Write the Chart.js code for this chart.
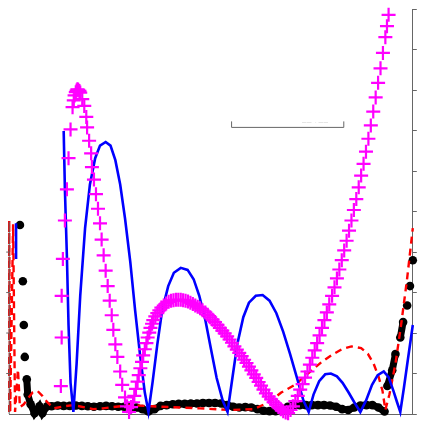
<!DOCTYPE html>
<html>
<head>
<meta charset="utf-8">
<script src="https://cdn.jsdelivr.net/npm/chart.js@4/dist/chart.umd.min.js"></script>
<style>
  body { margin: 0; background: #fff; }
  canvas { display: block; }
</style>
</head>
<body>
<canvas id="myChart" width="422" height="428"></canvas>
<script>
// Data (x in 0..100, y in 0..10)
const magentaX = [12.8, 13.0, 13.0, 13.3, 13.8, 14.3, 14.7, 15.2, 15.7, 16.0, 16.2, 16.5, 16.7, 16.9, 17.1, 17.4, 17.6, 18.1, 18.6, 19.1, 19.3, 19.8, 20.3, 20.5, 21.0, 21.5, 22.0, 22.5, 22.9, 23.4, 23.9, 24.4, 24.9, 25.4, 25.8, 26.3, 26.8, 27.5, 28.0, 28.7, 29.2,
  29.7, 30.2, 30.7, 31.0, 31.4, 31.8, 32.1, 32.5, 32.9, 33.2, 33.6, 34.0, 34.3, 34.7, 35.0, 35.4, 35.7, 36.2, 36.7, 37.2, 37.7, 38.3, 38.9, 39.5, 40.1, 40.7, 41.3, 41.9, 42.5, 43.1, 43.7, 44.3, 44.9, 45.5,
  46.1, 46.7, 47.3, 47.9, 48.6, 49.2, 49.8, 50.4, 51.0, 51.6, 52.2, 52.8, 53.4, 54.0, 54.6, 55.2, 55.8, 56.4, 57.0, 57.6, 58.2, 58.8, 59.4, 60.0, 60.6, 61.2, 61.8, 62.4, 63.0, 63.6, 64.3, 64.9, 65.5,
  66.1, 66.7, 67.3, 67.9, 68.5, 69.1,
  69.7, 70.3, 70.9, 71.5, 72.1, 72.7, 73.3, 73.9, 74.5, 75.1, 75.7, 76.3, 76.9, 77.5, 78.1, 78.7, 79.3, 80.0, 80.6, 81.2, 81.8, 82.4, 83.0, 83.6, 84.2, 84.8, 85.4, 86.0, 86.6, 87.2, 87.8, 88.4,
  89.0, 89.6, 90.2, 90.8, 91.4, 92.0, 92.6, 93.2, 93.6, 94.0]
const magentaY = [0.69, 1.89, 2.92, 3.83, 4.78, 5.55, 6.32, 7.03, 7.58, 7.75, 7.87, 7.95, 7.99, 8.02, 8.01, 7.98, 7.94, 7.78, 7.61, 7.34, 7.08, 6.75, 6.44, 6.10, 5.79, 5.43, 5.07, 4.71, 4.31, 3.92, 3.54, 3.16, 2.80, 2.44, 2.08, 1.72, 1.41, 1.05, 0.72, 0.41, 0.19,
  0.05, 0.17, 0.29, 0.45, 0.62, 0.80, 0.96, 1.13, 1.29, 1.45, 1.60, 1.75, 1.89, 2.01, 2.13, 2.23, 2.32, 2.41, 2.49, 2.56, 2.63, 2.68, 2.73, 2.77, 2.80, 2.81, 2.82, 2.82, 2.82, 2.81, 2.80, 2.78, 2.75, 2.72,
  2.68, 2.65, 2.61, 2.56, 2.51, 2.45, 2.39, 2.33, 2.27, 2.20, 2.13, 2.06, 1.99, 1.92, 1.84, 1.76, 1.67, 1.59, 1.51, 1.43, 1.34, 1.26, 1.17, 1.08, 0.98, 0.89, 0.79, 0.70, 0.60, 0.51, 0.43, 0.36, 0.29,
  0.23, 0.17, 0.12, 0.07, 0.04, 0.02,
  0.10, 0.19, 0.32, 0.45, 0.60, 0.74, 0.90, 1.05, 1.22, 1.39, 1.57, 1.75, 1.94, 2.13, 2.32, 2.51, 2.71, 2.92, 3.13, 3.35, 3.57, 3.80, 4.04, 4.28, 4.53, 4.78, 5.04, 5.31, 5.60, 5.89, 6.18, 6.48,
  6.80, 7.13, 7.47, 7.82, 8.18, 8.54, 8.92, 9.31, 9.58, 9.86]

const blueX = [1.7, 1.7, null, 13.5, 13.8, 14.3, 14.7, 15.2, 15.9, 16.7, 17.6, 18.8, 20.0, 21.3, 22.5, 23.9, 25.1, 26.3, 27.5, 28.7, 30.0, 31.2, 32.4, 33.6, 34.5,
  35.5, 36.7, 37.9, 39.4, 40.8, 42.5, 44.2, 45.7, 47.1, 48.6, 50.0, 51.4, 52.9, 54.1, 55.3, 56.5, 58.0, 59.4, 61.1, 62.8, 64.5, 66.2, 67.9, 69.6, 71.3, 72.9, 74.2,
  75.4, 76.8, 78.3, 79.7, 81.2, 82.6, 84.1, 85.5, 87.0, 88.4, 89.9, 91.3, 92.8, 94.0, 95.2, 96.1, 96.9, 97.8, 98.8, 100]
const blueY = [4.71, 3.83, null, 6.99, 5.55, 3.88, 2.20, 0.77, 0.05, 1.24, 2.92, 4.59, 5.67, 6.32, 6.63, 6.72, 6.63, 6.27, 5.67, 4.83, 3.76, 2.56, 1.48, 0.53, 0.05,
  0.77, 1.72, 2.56, 3.16, 3.49, 3.61, 3.56, 3.33, 2.92, 2.32, 1.60, 0.89, 0.33, 0.05, 0.89, 1.72, 2.39, 2.75, 2.92, 2.94, 2.80, 2.49, 2.03, 1.48, 0.89, 0.33, 0.05,
  0.48, 0.81, 0.98, 1.00, 0.93, 0.77, 0.53, 0.29, 0.05, 0.33, 0.72, 0.96, 1.05, 0.91, 0.57, 0.29, 0.05, 0.65, 1.36, 2.20]

const redX = [0, 0, 0.24, 0.97, 1.45, 2.17, 2.66, 3.62, 4.83, 5.8, 7.0, 8.21, 9.42, 11.1, 13.5, 15.9, 18.4, 20.8, 23.2, 25.6, 30.4, 35.3, 40.1, 47.3, 54.6, 60.6,
  64.3, 67.4, 70.8, 74.6, 77.5, 80.0, 82.4, 84.8, 87.2, 88.9, 90.3, 91.5, 92.5, 93.2, 94.2, 95.7, 97.1, 98.6, 100]
const redY = [0.05, 4.78, 0.05, 4.69, 0.05, 1.10, 0.17, 0.24, 0.41, 0.53, 0.57, 0.45, 0.29, 0.14, 0.19, 0.22, 0.17, 0.12, 0.14, 0.17, 0.22, 0.19, 0.17, 0.14, 0.10, 0.12,
  0.29, 0.53, 0.72, 1.05, 1.29, 1.46, 1.60, 1.67, 1.63, 1.48, 1.24, 0.93, 0.57, 0.10, 0.48, 1.24, 2.20, 3.35, 4.59]

const blackX = [2.66, 3.38, 3.62, 3.86, 4.35, 4.59, 5.31, 6.28, 7.49, 8.21, 9.42,
  10.5, 12, 13.5, 15, 16.5, 18, 19.5, 21, 22.5, 24, 25.5, 27, 28.5, 30, 31.5, 33, 34.5, 36, 37.5, 39, 40.5, 42, 43.5, 45, 46.5, 48, 49.5, 51, 52.5, 54, 55.5, 57,
  58.5, 60, 61.5, 63, 64.5, 66, 67.5, 69, 70.5, 72, 73.5, 75, 76.5, 78, 79.5, 81, 82.5, 84, 85.5, 87, 88.5, 90, 91.5, 93,
  93.7, 94.9, 95.7, 96.9, 97.6, 98.6, 99.3, 100]
const blackY = [4.67, 3.28, 2.20, 1.41, 0.86, 0.48, 0.24, 0.02, 0.19, 0.02, 0.19,
  0.19, 0.21, 0.20, 0.20, 0.21, 0.20, 0.19, 0.18, 0.19, 0.20, 0.19, 0.18, 0.18, 0.17, 0.16, 0.12, 0.06, 0.12, 0.20, 0.22, 0.24, 0.25, 0.25, 0.26, 0.26, 0.27, 0.27, 0.27, 0.26, 0.22, 0.18, 0.16,
  0.17, 0.16, 0.12, 0.08, 0.07, 0.07, 0.10, 0.18, 0.22, 0.22, 0.22, 0.22, 0.22, 0.22, 0.21, 0.18, 0.12, 0.10, 0.16, 0.21, 0.22, 0.22, 0.16, 0.06,
  0.69, 1.08, 1.48, 1.89, 2.27, 2.68, 3.16, 3.80]

const yTicks = [0, 1, 2, 3, 4, 5, 6, 7, 8, 9, 10]

function toPoints(xs, ys) {
    return xs.map((x, i) => ({ x: x, y: ys[i] }))
}

// bracket left of the old legend + the partial left axis
const extras = {
    id: 'extras',
    afterDraw(chart) {
        const ctx = chart.ctx
        const xs = chart.scales.x
        const ys = chart.scales.y
        ctx.save()
        ctx.strokeStyle = '#666'
        ctx.lineWidth = 1
        // legend bracket
        const lx0 = xs.getPixelForValue(55.1)
        const lx1 = xs.getPixelForValue(82.9)
        const ly = ys.getPixelForValue(7.08)
        ctx.beginPath()
        ctx.moveTo(lx0, ly - 6)
        ctx.lineTo(lx0, ly)
        ctx.lineTo(lx1, ly)
        ctx.lineTo(lx1, ly - 6)
        ctx.stroke()
        ctx.fillStyle = '#bbb'
        ctx.font = '5px "DejaVu Sans"'
        ctx.textBaseline = 'bottom'
        ctx.fillText('——  · ——', xs.getPixelForValue(72.5), ly - 2)
        // partial left axis
        const ax = chart.chartArea.left
        ctx.beginPath()
        ctx.moveTo(ax, ys.getPixelForValue(4.75))
        ctx.lineTo(ax, ys.getPixelForValue(0))
        for (let t = 1; t <= 4; t++) {
            const ty = ys.getPixelForValue(t)
            ctx.moveTo(ax - 3, ty)
            ctx.lineTo(ax, ty)
        }
        ctx.stroke()
        ctx.restore()
    }
}

const chart = new Chart(document.getElementById('myChart'), {
    type: 'line',
    data: {
        datasets: [
            {
                data: toPoints(magentaX, magentaY),
                showLine: false,
                pointStyle: 'cross',
                pointRadius: 7,
                pointBorderWidth: 2.2,
                pointBorderColor: '#ff00ff',
                pointBackgroundColor: '#ff00ff',
                clip: 10
            },
            {
                data: toPoints(blueX, blueY),
                borderColor: '#0000ff',
                borderWidth: 2.6,
                pointRadius: 0,
                spanGaps: false,
                clip: 10
            },
            {
                data: toPoints(redX, redY),
                borderColor: '#ff0000',
                borderWidth: 2.4,
                borderDash: [7, 5],
                pointRadius: 0,
                clip: 10
            },
            {
                data: toPoints(blackX, blackY),
                borderColor: '#000',
                borderWidth: 7,
                segment: {
                    // only the packed run of dots along the floor reads as a band
                    borderColor: c => Math.abs(c.p1.parsed.y - c.p0.parsed.y) > 0.4 ? 'rgba(0,0,0,0)' : '#000'
                },
                pointRadius: 4.3,
                pointBorderWidth: 0,
                pointBackgroundColor: '#000',
                clip: 10
            }
        ]
    },
    options: {
        responsive: false,
        animation: false,
        devicePixelRatio: 1,
        layout: { padding: { left: 4, top: 4, right: 0, bottom: 6 } },
        plugins: {
            legend: { display: false },
            tooltip: { enabled: false }
        },
        scales: {
            x: {
                type: 'linear',
                min: 0,
                max: 100,
                ticks: { display: false },
                grid: { display: false },
                border: { color: '#666', width: 1 }
            },
            y: {
                type: 'linear',
                position: 'right',
                min: 0,
                max: 10,
                afterBuildTicks: (axis) => { axis.ticks = yTicks.map(v => ({ value: v })) },
                ticks: { display: false },
                grid: { drawOnChartArea: false, tickLength: 4, color: '#666' },
                border: { color: '#666', width: 1 }
            }
        }
    },
    plugins: [extras]
});
</script>
</body>
</html>
